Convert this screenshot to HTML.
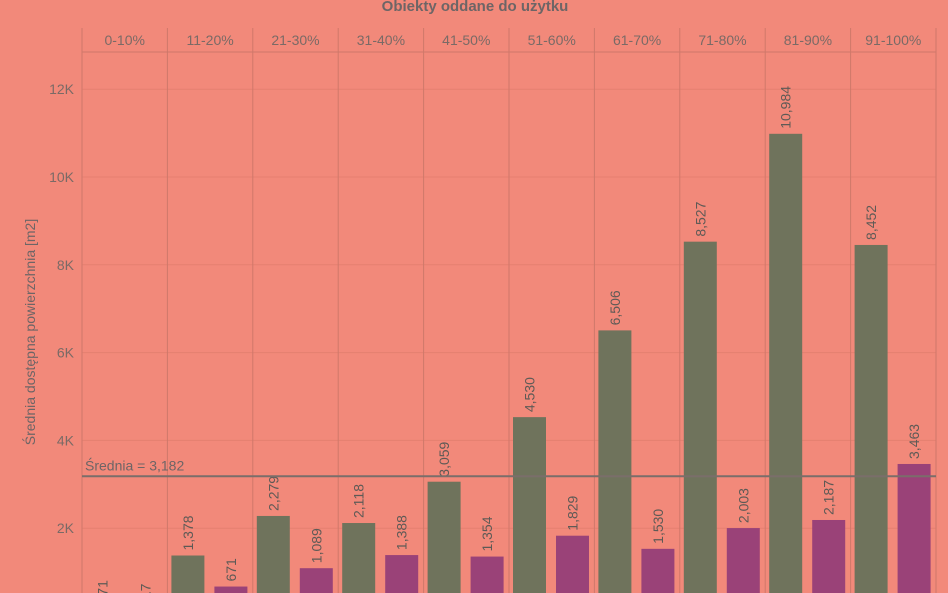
<!DOCTYPE html>
<html><head><meta charset="utf-8"><style>
html,body{margin:0;background:#f2897a;overflow:hidden;width:948px;height:593px;}
svg{display:block;font-family:"Liberation Sans","DejaVu Sans",sans-serif;}
</style></head><body>
<svg id="c" width="948" height="593">
<rect width="948" height="593" fill="#f2897a"/>
<text x="475" y="11" text-anchor="middle" font-size="15" font-weight="bold" fill="#6d6566">Obiekty oddane do użytku</text>
<text transform="translate(35,332) rotate(-90)" text-anchor="middle" font-size="14" fill="#6d6566">Średnia dostępna powierzchnia [m2]</text>
<g id="g"></g>
</svg>
<script>
const categories=["0-10%","11-20%","21-30%","31-40%","41-50%","51-60%","61-70%","71-80%","81-90%","91-100%"];
const seriesA=[171,1378,2279,2118,3059,4530,6506,8527,10984,8452];
const seriesB=[117,671,1089,1388,1354,1829,1530,2003,2187,3463];
const yTicks=[2000,4000,6000,8000,10000,12000];
const yTickLabels=["2K","4K","6K","8K","10K","12K"];
const average=3182;
const NS="http://www.w3.org/2000/svg";
const g=document.getElementById('g');
const L=82,R=936,T=28,HB=52,B=593;
const y=v=>616-v*0.0439;
const cw=(R-L)/categories.length;
const x=i=>L+i*cw;
function mk(t,a){const e=document.createElementNS(NS,t);for(const k in a)e.setAttribute(k,a[k]);g.appendChild(e);return e;}
const grid="#e58070",line="#cf786a",txt="#7a6a66";
yTicks.forEach((v,i)=>{
 const l=mk('line',{x1:L,x2:R,y1:y(v),y2:y(v),stroke:grid,'stroke-width':1});
 
 
 const t=mk('text',{x:74,y:y(v)+5,'text-anchor':'end','font-size':14,fill:txt});
 t.textContent=yTickLabels[i];
 
 
});
const hl=mk('line',{x1:L,x2:R,y1:HB,y2:HB,stroke:line});


for(let i=0;i<=categories.length;i++){
 const l=mk('line',{x1:x(i),x2:x(i),y1:T,y2:B,stroke:line});
 
 
}
function lab(cx,top,v){
 const t=mk('text',{transform:`translate(${cx+5},${top-5}) rotate(-90)`,'font-size':14,fill:'#5e5a56'});
 t.textContent=v.toLocaleString('en-US');
 
 
}
categories.forEach((c,i)=>{
 const h=mk('text',{x:x(i)+cw/2,y:45,'text-anchor':'middle','font-size':14,fill:txt});
 h.textContent=c;
 
 
 const ya=y(seriesA[i]);
 const a=mk('rect',{x:x(i)+4,y:ya,width:33,height:Math.max(0,B-ya),fill:'#6f735c'});
 
 
 lab(x(i)+20.5,ya,seriesA[i]);
 const yb=y(seriesB[i]);
 const b=mk('rect',{x:x(i)+47,y:yb,width:33,height:Math.max(0,B-yb),fill:'#9a4278'});
 
 
 lab(x(i)+63.5,yb,seriesB[i]);
});
const al=mk('line',{x1:L,x2:R,y1:y(average),y2:y(average),stroke:'#7a6e6a','stroke-width':2});


const at=mk('text',{x:L+3,y:y(average)-6,'font-size':14,fill:'#6d6566'});
at.textContent='Średnia = '+average.toLocaleString('en-US');


</script>
</body></html>
